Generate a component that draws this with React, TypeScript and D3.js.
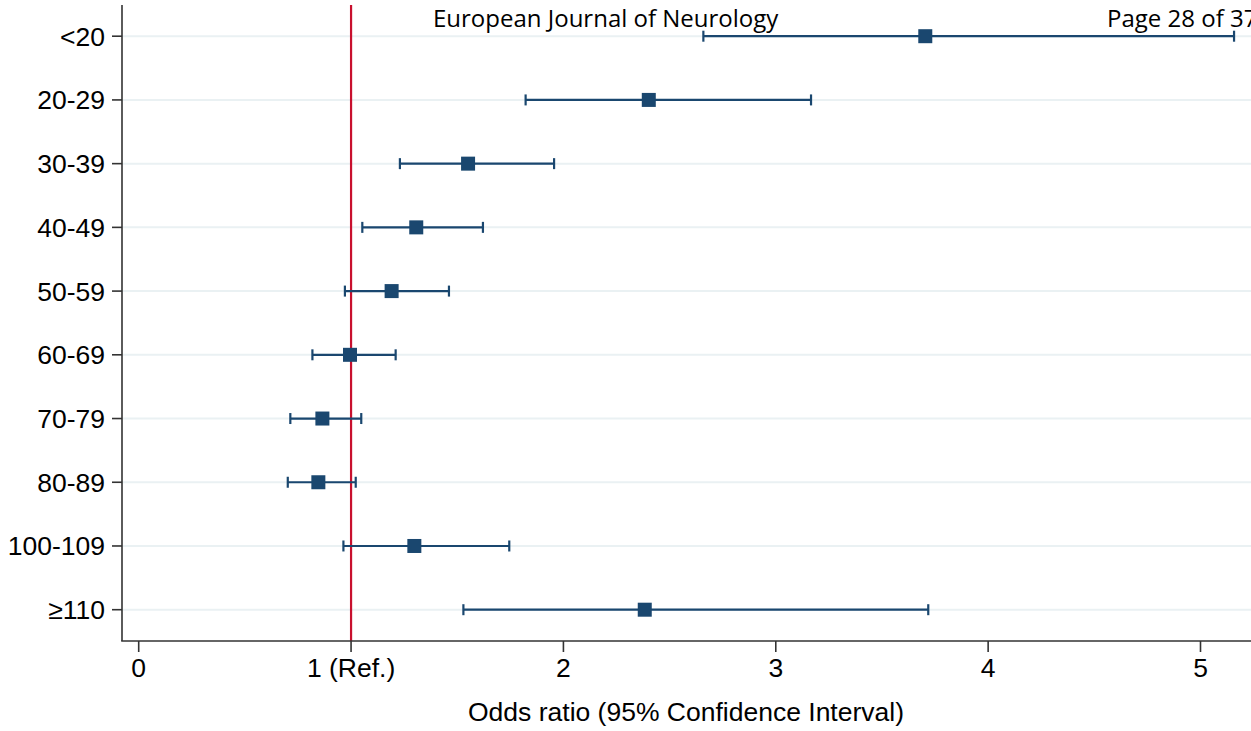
import React from "react";
import * as d3 from "d3";

const categories = ["<20", "20-29", "30-39", "40-49", "50-59", "60-69", "70-79", "80-89", "100-109", "≥110"];
const oddsRatio = [3.704, 2.402, 1.551, 1.307, 1.191, 0.995, 0.865, 0.846, 1.298, 2.383];
const ciLow = [2.659, 1.822, 1.23, 1.053, 0.971, 0.818, 0.714, 0.702, 0.964, 1.529];
const ciHigh = [5.158, 3.166, 1.956, 1.621, 1.461, 1.21, 1.048, 1.022, 1.745, 3.718];
const xTicks = [0, 1, 2, 3, 4, 5];
const xTickLabels = ["0", "1 (Ref.)", "2", "3", "4", "5"];
const refValue = 1;
const xTitle = "Odds ratio (95% Confidence Interval)";
const headerLeft = "European Journal of Neurology";
const headerRight = "Page 28 of 37";

export default function App() {
  const W = 1251;
  const H = 731;
  const axisX = 122;
  const axisY = 641;
  const topY = 5;
  const x = d3.scaleLinear().domain([0, 5]).range([138.7, 1200.5]);
  const y = d3.scalePoint<string>().domain(categories).range([36.2, 609.7]);
  const navy = "#1a476f";
  const font = "'Liberation Sans', Arial, sans-serif";
  const fs = 26.5;
  const markerSize = 14;
  const capH = 11;

  return (
    <svg
      width={W}
      height={H}
      style={{ position: "absolute", left: 0, top: 0, background: "#fff" }}
    >
      <rect x={0} y={0} width={W} height={H} fill="#fff" />
      {/* gridlines */}
      {categories.map((c) => (
        <line key={"g" + c} x1={axisX} x2={W} y1={y(c)} y2={y(c)} stroke="#eaf1f3" strokeWidth={2} />
      ))}
      {/* reference line */}
      <line x1={x(refValue)} x2={x(refValue)} y1={topY} y2={axisY} stroke="#c8102e" strokeWidth={2.2} />
      {/* error bars */}
      {categories.map((c, i) => {
        const yy = y(c)!;
        return (
          <g key={"e" + c}>
            <line x1={x(ciLow[i])} x2={x(ciHigh[i])} y1={yy} y2={yy} stroke={navy} strokeWidth={2.2} />
            <line x1={x(ciLow[i])} x2={x(ciLow[i])} y1={yy - capH / 2} y2={yy + capH / 2} stroke={navy} strokeWidth={2.2} />
            <line x1={x(ciHigh[i])} x2={x(ciHigh[i])} y1={yy - capH / 2} y2={yy + capH / 2} stroke={navy} strokeWidth={2.2} />
            <rect
              x={x(oddsRatio[i]) - markerSize / 2}
              y={yy - markerSize / 2}
              width={markerSize}
              height={markerSize}
              fill={navy}
            />
          </g>
        );
      })}
      {/* y axis */}
      <line x1={axisX} x2={axisX} y1={topY} y2={axisY} stroke="#333" strokeWidth={1.6} />
      {categories.map((c) => (
        <g key={"yt" + c}>
          <line x1={axisX - 10} x2={axisX} y1={y(c)} y2={y(c)} stroke="#333" strokeWidth={1.6} />
          <text x={105} y={y(c)! + 9.5} textAnchor="end" fontFamily={font} fontSize={fs} fill="#000">
            {c}
          </text>
        </g>
      ))}
      {/* x axis */}
      <line x1={axisX - 0.8} x2={W} y1={axisY} y2={axisY} stroke="#333" strokeWidth={1.6} />
      {xTicks.map((t, i) => (
        <g key={"xt" + t}>
          <line x1={x(t)} x2={x(t)} y1={axisY} y2={axisY + 11} stroke="#333" strokeWidth={1.6} />
          <text x={x(t)} y={676.5} textAnchor="middle" fontFamily={font} fontSize={fs} fill="#000">
            {xTickLabels[i]}
          </text>
        </g>
      ))}
      <text x={686} y={720.5} textAnchor="middle" fontFamily={font} fontSize={fs} fill="#000">
        {xTitle}
      </text>
      {/* page header */}
      <text x={433} y={27} fontFamily="'Open Sans', sans-serif" fontSize={24} fill="#000">
        {headerLeft}
      </text>
      <text x={1107} y={27} fontFamily="'Open Sans', sans-serif" fontSize={24} fill="#000">
        {headerRight}
      </text>
    </svg>
  );
}
